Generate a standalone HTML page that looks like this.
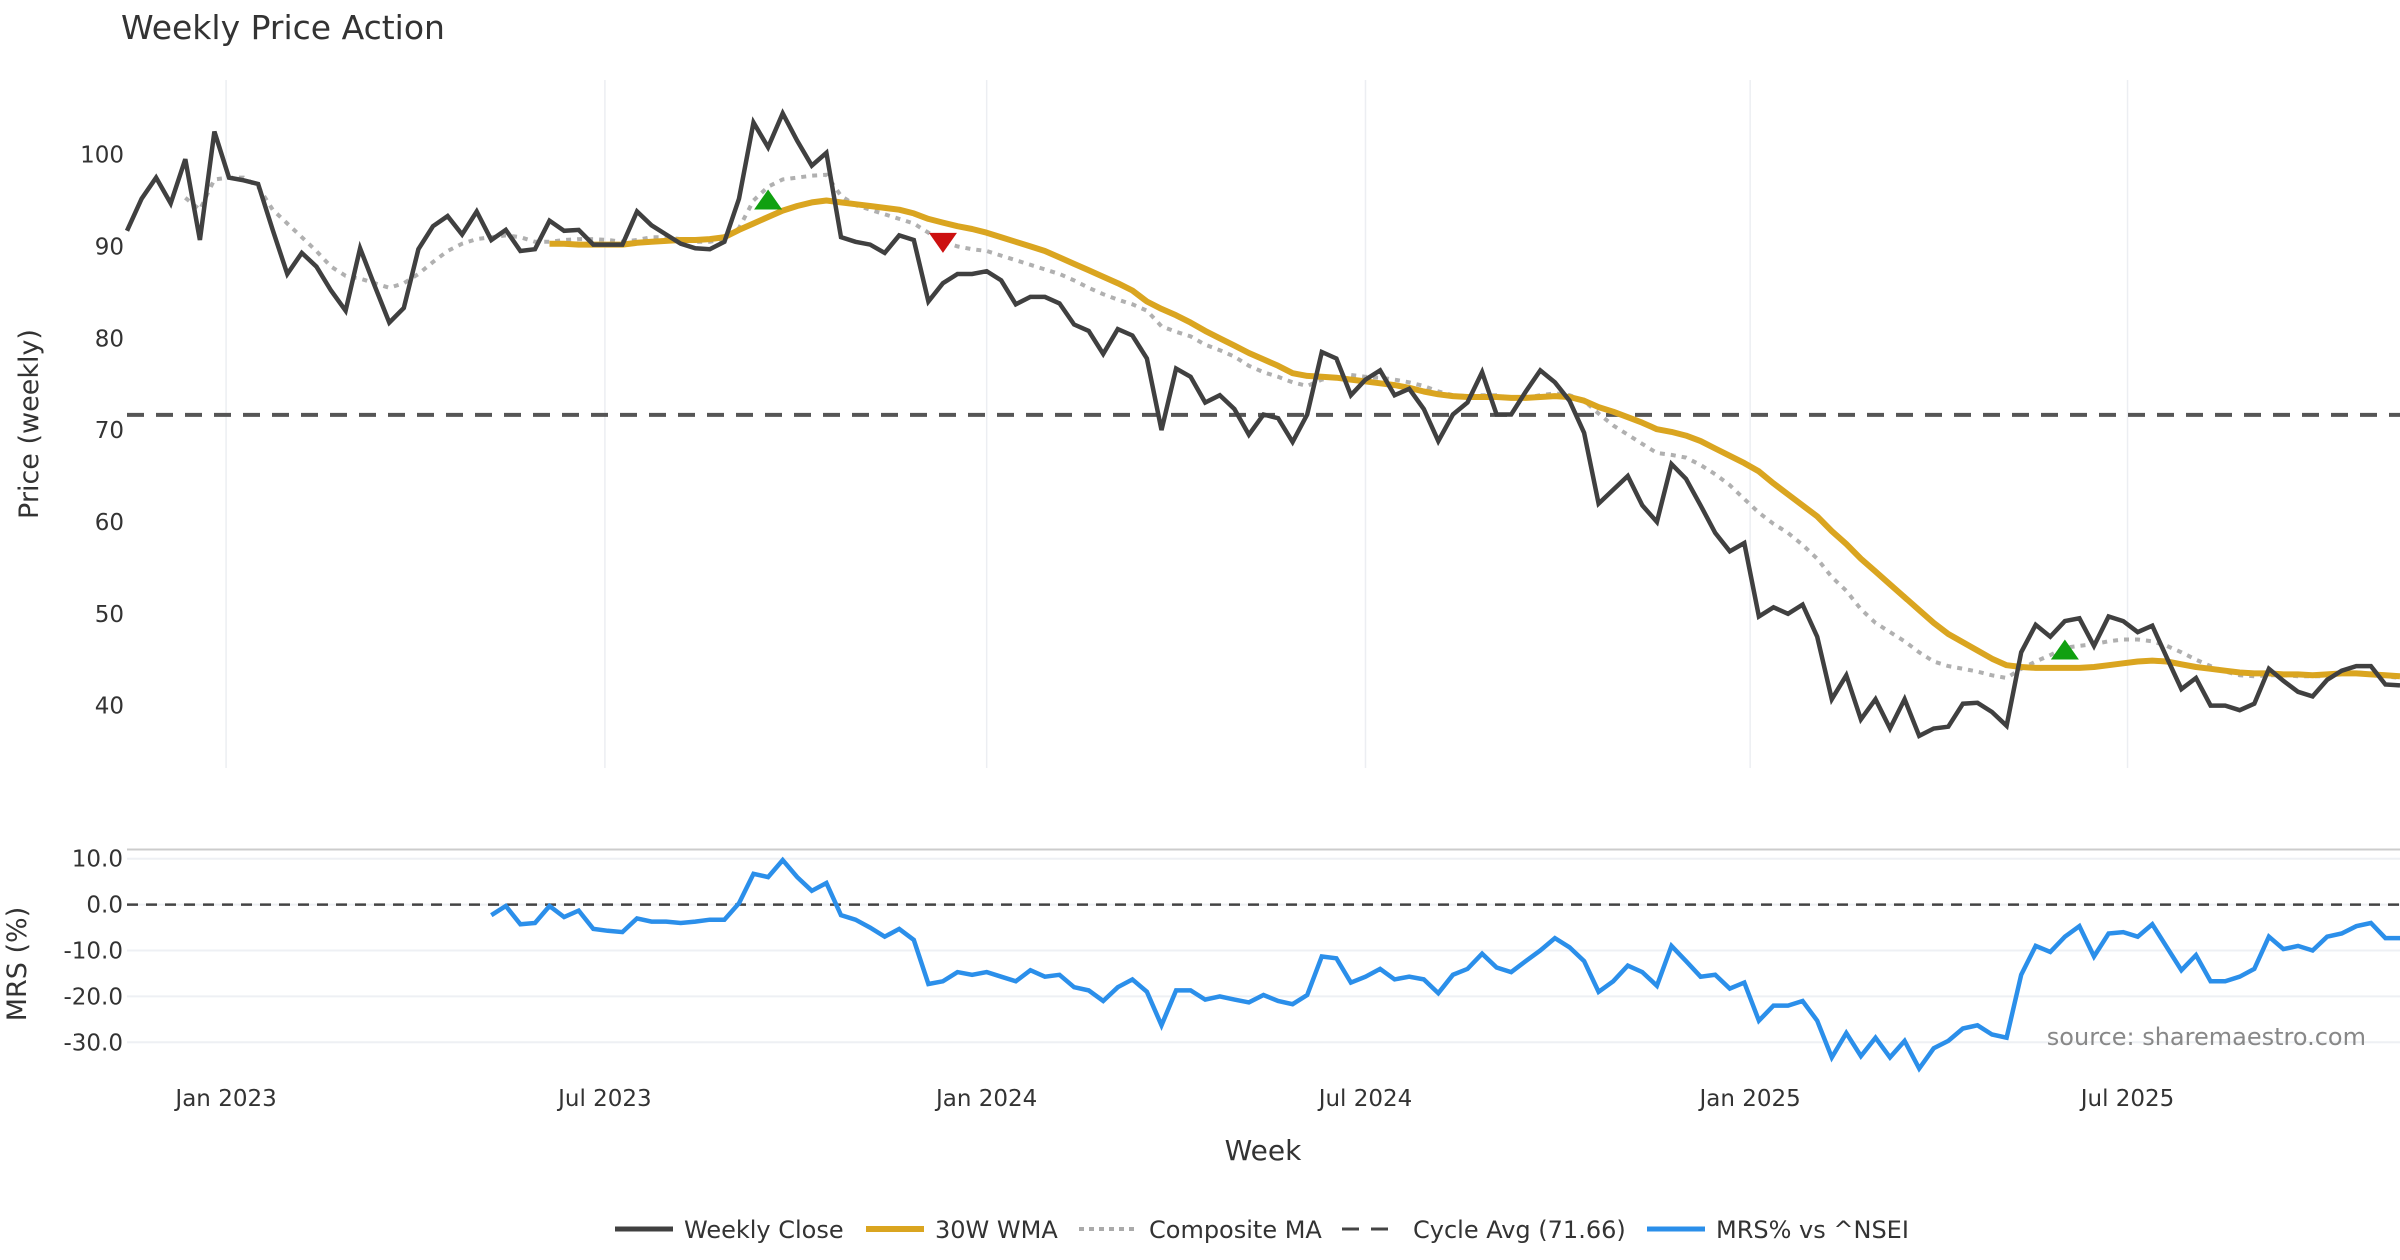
<!DOCTYPE html>
<html><head><meta charset="utf-8"><style>
html,body{margin:0;padding:0;background:#fff;}
svg{display:block;font-family:"DejaVu Sans","Liberation Sans",sans-serif;}
</style></head><body>
<svg id="chart" width="2400" height="1260" viewBox="0 0 2400 1260" xmlns="http://www.w3.org/2000/svg">
<text x="121" y="39" font-size="33" fill="#333">Weekly Price Action</text>
<g id="grid"></g>
<g id="marks"></g>
<g id="axes"></g>
<text transform="translate(38,424) rotate(-90)" text-anchor="middle" font-size="27" fill="#333">Price (weekly)</text>
<text transform="translate(26,964) rotate(-90)" text-anchor="middle" font-size="27" fill="#333">MRS (%)</text>
<text x="1263" y="1160" text-anchor="middle" font-size="28" fill="#333">Week</text>
<text x="2366" y="1045" text-anchor="end" font-size="24" fill="#888">source: sharemaestro.com</text>
<g id="legend" font-size="24" fill="#333">
<line x1="615" y1="1229" x2="673" y2="1229" stroke="#404040" stroke-width="5"/>
<text x="684" y="1238">Weekly Close</text>
<line x1="866" y1="1229" x2="924" y2="1229" stroke="#DAA520" stroke-width="6"/>
<text x="935" y="1238">30W WMA</text>
<line x1="1079" y1="1229" x2="1137" y2="1229" stroke="#aaa" stroke-width="4" stroke-dasharray="5,5"/>
<text x="1149" y="1238">Composite MA</text>
<line x1="1342" y1="1229" x2="1400" y2="1229" stroke="#444" stroke-width="3" stroke-dasharray="17,12"/>
<text x="1413" y="1238">Cycle Avg (71.66)</text>
<line x1="1647" y1="1229" x2="1705" y2="1229" stroke="#2B8FEA" stroke-width="5"/>
<text x="1716" y="1238">MRS% vs ^NSEI</text>
</g>
</svg>
<script>
const closes=[91.7,95.2,97.5,94.7,99.5,90.7,102.5,97.5,97.2,96.8,
91.8,87,89.3,87.8,85.2,83,89.8,85.7,81.7,83.3,
89.7,92.2,93.3,91.3,93.8,90.7,91.8,89.5,89.7,92.8,
91.7,91.8,90.2,90.2,90.2,93.8,92.3,91.3,90.3,89.8,
89.7,90.5,95.2,103.5,100.8,104.5,101.5,98.8,100.2,91,
90.5,90.2,89.3,91.2,90.7,84,86,87,87,87.3,
86.3,83.7,84.5,84.5,83.8,81.5,80.8,78.3,81,80.3,
77.8,70,76.7,75.8,73,73.8,72.3,69.5,71.7,71.3,
68.7,71.7,78.5,77.8,73.8,75.5,76.5,73.8,74.5,72.3,
68.8,71.7,73,76.3,71.7,71.7,74.2,76.5,75.2,73.2,
69.7,62,63.5,65,61.8,60,66.3,64.7,61.8,58.8,
56.8,57.7,49.7,50.7,50,51,47.5,40.7,43.3,38.5,
40.7,37.5,40.7,36.7,37.5,37.7,40.2,40.3,39.3,37.8,
45.8,48.8,47.5,49.2,49.5,46.5,49.7,49.2,48,48.7,
45.2,41.8,43,40,40,39.5,40.2,44,42.7,41.5,
41,42.8,43.8,44.3,44.3,42.3,42.2];
const compStart=4;
const composite=[95.3,94,97.3,97.5,97.5,96.5,94,92.5,91,89.5,87.8,86.8,86.5,86,85.5,86,87,88.3,89.5,90.3,90.8,91,91.2,91,90.5,90.5,90.7,90.8,90.8,90.7,90.5,90.7,91,91,90.8,90.5,90.5,90.8,92,95,96.5,97.3,97.5,97.7,97.8,95.5,94.5,94,93.5,93,92.5,91.5,90.5,90,89.7,89.5,89,88.5,88,87.5,87,86.3,85.5,84.8,84.2,83.7,83,81.3,80.7,80.2,79.3,78.7,78,77,76.3,75.8,75.2,74.8,75.5,75.8,76,75.8,75.7,75.5,75.2,74.8,74.2,73.8,73.7,73.8,73.8,73.5,73.5,73.8,74,73.8,73.2,71.8,70.5,69.5,68.5,67.5,67.3,67,66.2,65.2,64,62.5,61,59.8,58.8,57.5,56,54,52.5,50.5,49,48,47,45.8,44.8,44.3,44,43.7,43.3,43,44,44.8,45.5,46.3,46.5,46.7,47,47.2,47.2,47,46.5,45.8,45,44.3,43.7,43.3,43.2,43.3,43.3,43.2,43.2,43.2,43.5,43.6,43.5,43.2,43];
const wmaStart=29;
const wma=[90.3,90.3,90.2,90.2,90.2,90.2,90.4,90.5,90.6,90.7,90.7,90.8,91,91.8,92.5,93.2,93.9,94.4,94.8,95,94.8,94.6,94.4,94.2,94,93.6,93,92.6,92.2,91.9,91.5,91,90.5,90,89.5,88.8,88.1,87.4,86.7,86,85.2,84,83.2,82.5,81.7,80.8,80,79.2,78.4,77.7,77,76.2,75.9,75.8,75.7,75.5,75.3,75.1,74.9,74.6,74.2,73.9,73.7,73.6,73.6,73.6,73.5,73.5,73.6,73.7,73.6,73.2,72.5,72,71.4,70.8,70.1,69.8,69.4,68.8,68,67.2,66.4,65.5,64.2,63,61.8,60.6,59,57.6,56,54.6,53.2,51.8,50.4,49,47.8,46.9,46,45.1,44.4,44.2,44.1,44.1,44.1,44.1,44.2,44.4,44.6,44.8,44.9,44.8,44.5,44.2,44,43.8,43.6,43.5,43.5,43.4,43.4,43.3,43.4,43.5,43.5,43.4,43.3,43.2];
const mrsStart=25;
const mrs=[-2.3,-0.3,-4.3,-4,-0.3,-2.7,-1.3,-5.3,-5.7,-6,
-3,-3.7,-3.7,-4,-3.7,-3.3,-3.3,0.3,6.7,6,
9.7,6,3,4.7,-2.3,-3.3,-5,-7,-5.3,-7.7,
-17.3,-16.7,-14.7,-15.3,-14.7,-15.7,-16.7,-14.3,-15.7,-15.3,
-18,-18.7,-21,-18,-16.3,-19,-26.3,-18.7,-18.7,-20.7,
-20,-20.7,-21.3,-19.7,-21,-21.7,-19.7,-11.3,-11.7,-17,
-15.7,-14,-16.3,-15.7,-16.3,-19.3,-15.3,-14,-10.7,-13.7,
-14.7,-12.3,-10,-7.3,-9.3,-12.3,-19,-16.7,-13.3,-14.7,
-17.7,-9,-12.3,-15.7,-15.3,-18.3,-17,-25.3,-22,-22,
-21,-25.3,-33.3,-28,-33,-29,-33.3,-29.7,-35.7,-31.3,
-29.7,-27,-26.3,-28.3,-29,-15.3,-9,-10.3,-7,-4.7,
-11.3,-6.3,-6,-7,-4.3,-9.3,-14.3,-11,-16.7,-16.7,
-15.7,-14,-7,-9.7,-9,-10,-7,-6.3,-4.7,-4,
-7.3,-7.3];
const cycleAvg=71.66;
const buyIdx=[44,133];
const buyVals=[95,46];
const sellIdx=[56];
const sellVals=[90.5];
const priceTicks=[40,50,60,70,80,90,100];
const mrsTicks=[10,0,-10,-20,-30];
const monthLabels=["Jan 2023","Jul 2023","Jan 2024","Jul 2024","Jan 2025","Jul 2025"];
const monthIdx=[6.8,32.8,59,85,111.4,137.3];

const NS="http://www.w3.org/2000/svg";
const X=i=>127+i*(2400-127)/156;
const Y=p=>154.6+(100-p)*9.183;
const M=v=>904.6-v*4.59;
function mk(tag,attrs,parent){const e=document.createElementNS(NS,tag);for(const k in attrs)e.setAttribute(k,attrs[k]);document.getElementById(parent).appendChild(e);return e;}
function pathFrom(vals,start,fy){return vals.map((v,k)=>(k?'L':'M')+X(start+k).toFixed(1)+','+fy(v).toFixed(1)).join('');}

monthIdx.forEach((m,k)=>{
  const g=mk('line',{x1:X(m),x2:X(m),y1:80,y2:768,stroke:'#eceef2','stroke-width':1.5},'grid');
  
  
  const t=mk('text',{x:X(m),y:1106,'text-anchor':'middle','font-size':23,fill:'#333'},'axes');
  t.textContent=monthLabels[k];
  
  
});
priceTicks.forEach(p=>{
  const t=mk('text',{x:124,y:Y(p)+8,'text-anchor':'end','font-size':23,fill:'#333'},'axes');
  t.textContent=p;
  
  
});
const sep=mk('line',{x1:127,x2:2400,y1:849.5,y2:849.5,stroke:'#ccc','stroke-width':2},'grid');


mrsTicks.forEach(v=>{
  const g=mk('line',{x1:127,x2:2400,y1:M(v),y2:M(v),stroke:'#eef0f4','stroke-width':2},'grid');
  
  
  const t=mk('text',{x:123,y:M(v)+8,'text-anchor':'end','font-size':23,fill:'#333'},'axes');
  t.textContent=v.toFixed(1);
  
  
});

const cyc=mk('line',{x1:127,x2:2400,y1:Y(cycleAvg),y2:Y(cycleAvg),stroke:'#555','stroke-width':4,'stroke-dasharray':'17,12'},'marks');


const comp=mk('path',{d:pathFrom(composite,compStart,Y),fill:'none',stroke:'#b0b0b0','stroke-width':4,'stroke-dasharray':'5,6'},'marks');


const w=mk('path',{d:pathFrom(wma,wmaStart,Y),fill:'none',stroke:'#DAA520','stroke-width':6,'stroke-linejoin':'round'},'marks');


const c=mk('path',{d:pathFrom(closes,0,Y),fill:'none',stroke:'#404040','stroke-width':4.5,'stroke-linejoin':'miter'},'marks');


buyIdx.forEach((i,k)=>{
  const x=X(i),y=Y(buyVals[k]);
  const t=mk('polygon',{points:`${x-14},${y+9} ${x+14},${y+9} ${x},${y-11}`,fill:'#10a010'},'marks');
  
  
});
sellIdx.forEach((i,k)=>{
  const x=X(i),y=Y(sellVals[k]);
  const t=mk('polygon',{points:`${x-14},${y-9} ${x+14},${y-9} ${x},${y+11}`,fill:'#cc1010'},'marks');
  
  
});
const z=mk('line',{x1:127,x2:2400,y1:M(0),y2:M(0),stroke:'#444','stroke-width':2.5,'stroke-dasharray':'11,8'},'marks');


const m=mk('path',{d:pathFrom(mrs,mrsStart,M),fill:'none',stroke:'#2B8FEA','stroke-width':4.5},'marks');


</script>
</body></html>
